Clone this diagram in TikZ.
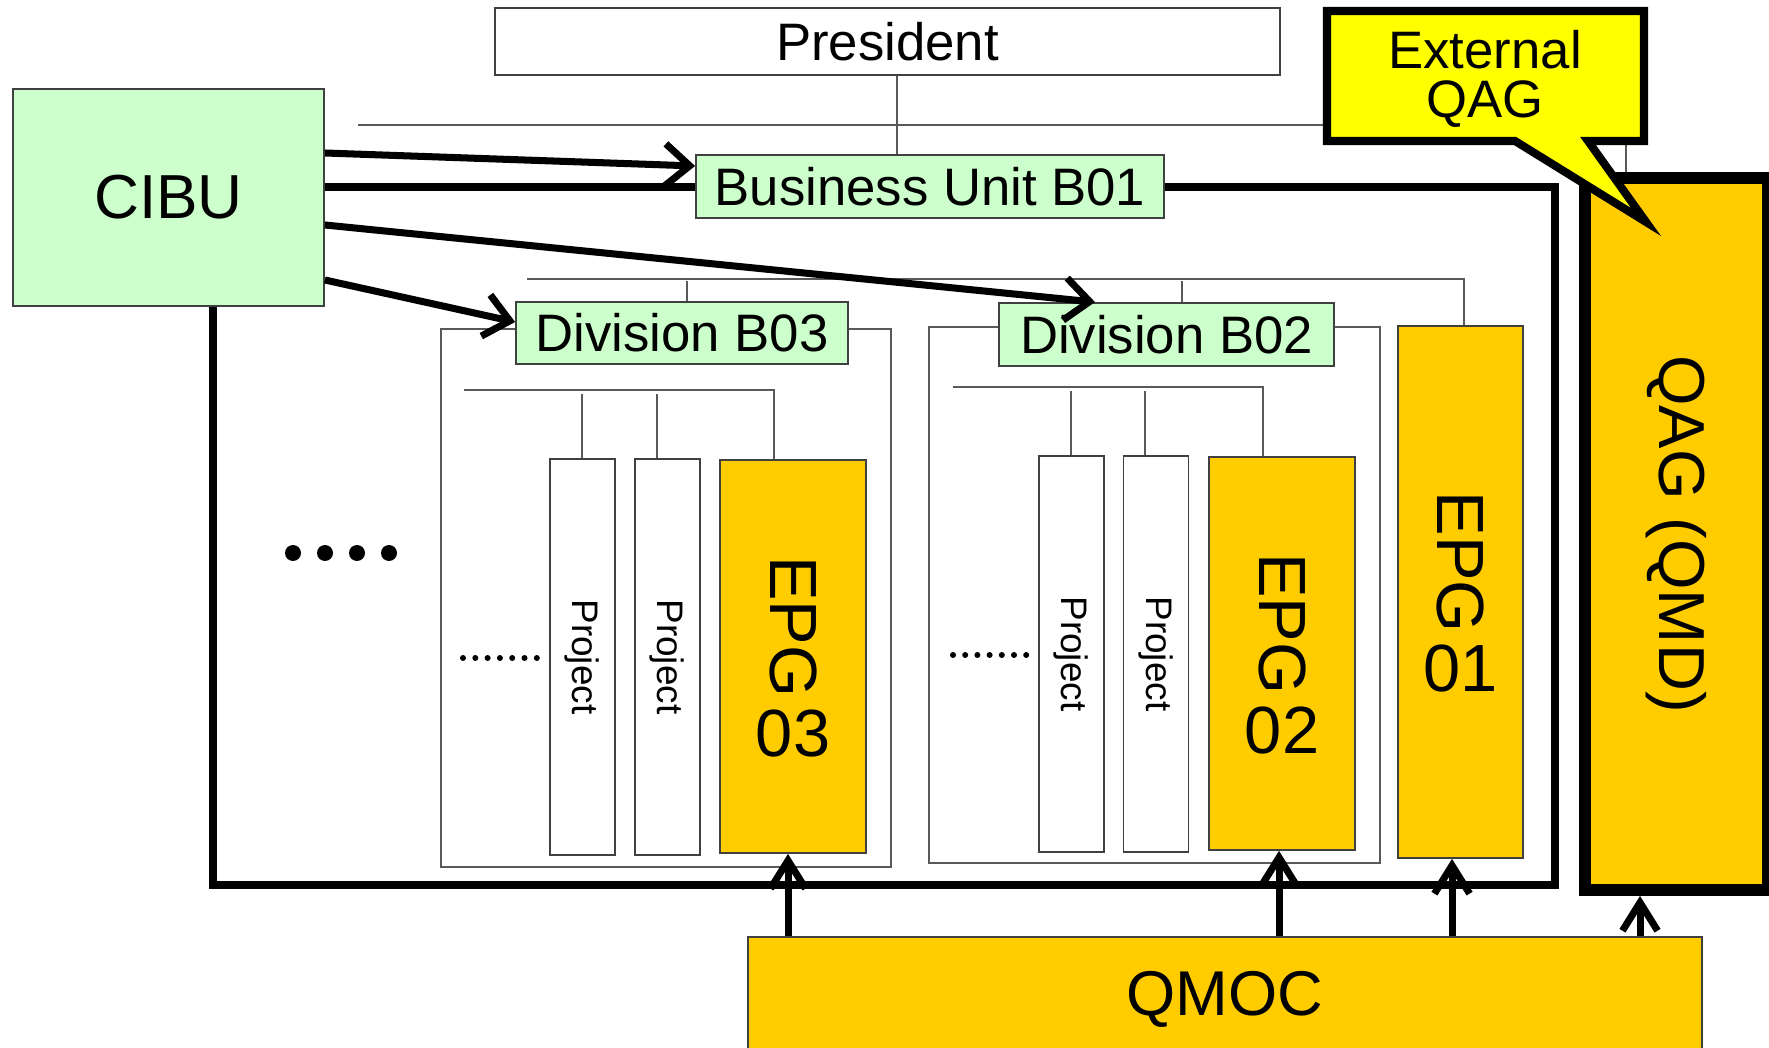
\documentclass[tikz,border=0pt]{standalone}
\usepackage{fontspec}
\setmainfont{Liberation Sans}
\usepackage{graphicx}
\usetikzlibrary{arrows.meta,positioning}
\definecolor{cibugreen}{HTML}{CCFFCC}
\definecolor{qmgold}{HTML}{FFCC00}
\definecolor{callyellow}{HTML}{FFFF00}
\newdimen\px \px=0.1mm

\begin{document}
\begin{tikzpicture}[
    x=0.1mm, y=-0.1mm,
    box/.style={draw=black!75, line width=0.5pt, inner sep=0pt, align=center},
    greenbox/.style={box, fill=cibugreen},
    goldbox/.style={box, fill=qmgold},
    projbox/.style={box, fill=white, minimum width=65\px, minimum height=396\px, font=\fontsize{10.5}{12}\selectfont},
    epgbox/.style={goldbox, font=\fontsize{19}{21}\selectfont},
    orgline/.style={draw=black!65, line width=0.45pt},
    divframe/.style={draw=black!65, line width=0.5pt},
    unitframe/.style={draw=black, line width=2.2pt},
    callout/.style={draw=black, fill=callyellow, line width=2.3pt, line join=miter},
    feed/.style={-{Straight Barb[length=7pt,width=12pt]}, line width=2pt},
    lift/.style={-{Straight Barb[length=8pt,width=10pt]}, line width=2pt}
]
\useasboundingbox (0,0) rectangle (1769,1048);
\clip (0,0) rectangle (1769,1048);
\fill[white] (0,0) rectangle (1769,1048);

\draw[unitframe] (213,187) rectangle (1555,885);
\draw[divframe] (441,329) rectangle (891,867);
\draw[divframe] (929,327) rectangle (1380,863);

\node[box, fill=white, minimum width=785\px, minimum height=67\px, font=\fontsize{15}{18}\selectfont] (pres) at (887.5,41.5) {President};
\node[greenbox, minimum width=311\px, minimum height=217\px, font=\fontsize{17.7}{20}\selectfont] (cibu) at (168.5,197.5) {CIBU};
\node[greenbox, minimum width=468\px, minimum height=63\px, font=\fontsize{15}{18}\selectfont] (bu) at (930,186.5) {Business Unit B01};
\node[greenbox, minimum width=332\px, minimum height=62\px, font=\fontsize{15}{18}\selectfont] (divA) at (682,333) {Division B03};
\node[greenbox, minimum width=335\px, minimum height=63\px, font=\fontsize{15}{18}\selectfont] (divB) at (1166.5,334.5) {Division B02};

\node[projbox] (pA1) at (582.5,657) {\rotatebox{-90}{Project}};
\node[projbox] (pA2) at (667.5,657) {\rotatebox{-90}{Project}};
\node[epgbox, minimum width=146\px, minimum height=393\px] (epgA) at (793,656.5) {\rotatebox{-90}{EPG}\\[2.5pt]03};
\node[projbox] (pB1) at (1071.5,654) {\rotatebox{-90}{Project}};
\node[projbox] (pB2) at (1156,654) {\rotatebox{-90}{Project}};
\node[epgbox, minimum width=146\px, minimum height=393\px] (epgB) at (1282,653.5) {\rotatebox{-90}{EPG}\\[2.5pt]02};
\node[epgbox, minimum width=125\px, minimum height=532\px] (epgO) at (1460.5,592) {\rotatebox{-90}{EPG}\\[2.5pt]01};
\node[goldbox, draw=black, line width=3.4pt, minimum width=183\px, minimum height=712\px, font=\fontsize{18.5}{20}\selectfont] (qag) at (1676.5,534) {\rotatebox{-90}{QAG (QMD)}};
\node[goldbox, minimum width=954\px, minimum height=124\px, font=\fontsize{18}{20}\selectfont] (qmoc) at (1225,999) {QMOC};

\coordinate (busT) at (358,125);
\coordinate (busTe) at (1626,125);
\coordinate (presDrop) at (897,125);
\draw[orgline] (busT) -- (busTe) -- (busTe |- qag.north);
\draw[orgline] (presDrop |- pres.south) -- (presDrop |- bu.north);

\coordinate (busD) at (527,279);
\coordinate (busDe) at (1464,279);
\draw[orgline] (busD) -- (busDe) -- (busDe |- epgO.north);
\foreach \x/\n [count=\i] in {687/divA, 1182/divB}{
  \coordinate (tapD\i) at (\x,281);
  \draw[orgline] (tapD\i) -- (tapD\i |- \n.north);
}

\coordinate (busA) at (464,390);
\coordinate (busAe) at (774,390);
\draw[orgline] (busA) -- (busAe) -- (busAe |- epgA.north);
\coordinate (busB) at (953,387);
\coordinate (busBe) at (1263,387);
\draw[orgline] (busB) -- (busBe) -- (busBe |- epgB.north);
\foreach \x/\y/\n [count=\i] in {582/394/pA1, 657/394/pA2, 1071/391/pB1, 1145/391/pB2}{
  \coordinate (tapP\i) at (\x,\y);
  \draw[orgline] (tapP\i) -- (tapP\i |- \n.north);
}

\foreach \x in {293,325,357,389} \fill (\x,553) circle[radius=0.8mm];
\foreach \k in {0,...,6}{
  \fill (463+12.3*\k,658) circle[radius=0.3mm];
  \fill (953+12.2*\k,655) circle[radius=0.3mm];
}

\draw[feed] ([yshift=4.45mm]cibu.east) -- ([yshift=2.05mm]bu.west);
\draw[feed] ([yshift=-2.75mm]cibu.east) -- ([xshift=-7.15mm]divB.north);
\draw[feed] ([yshift=-8.25mm]cibu.east) -- ([yshift=1.1mm]divA.west);

\foreach \x/\n [count=\i] in {788/epgA, 1279/epgB, 1452/epgO, 1640/qag}{
  \coordinate (up\i) at (\x,937);
  \draw[lift] (up\i |- qmoc.north) -- (up\i |- \n.south);
}

\draw[callout] (1327,11) -- (1644,11) -- (1644,141) -- (1588,141) -- (1646,222) -- (1515,141) -- (1327,141) -- cycle;
\node[font=\fontsize{15}{14}\selectfont, align=center] (ext) at (1485,79) {External\\QAG};
\end{tikzpicture}
\end{document}
